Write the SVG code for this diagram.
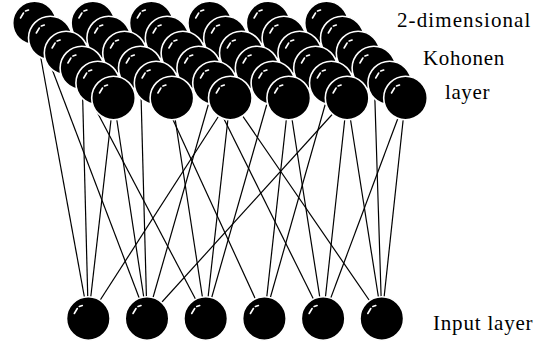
<svg xmlns="http://www.w3.org/2000/svg" width="539" height="346" viewBox="0 0 539 346">
  <rect width="539" height="346" fill="#fff"/>

  <defs>
    <!-- a shaded neuron: black ball, thin white rim, small specular glint -->
    <g id="ball">
      <circle r="21.8" fill="#000" stroke="#fff" stroke-width="1.6"/>
      <path d="M-14,-5 L-11,-10 M-9,-12 L-6,-13" stroke="#fff" stroke-width="1.6" stroke-linecap="round" fill="none"/>
    </g>
  </defs>

  <!-- connections from input neurons to map neurons (drawn first so the balls cover their ends) -->
  <g id="connectors" stroke="#000" stroke-width="1.2" fill="none">
    <line x1="34.5" y1="23" x2="88.3" y2="318.5"/>
    <line x1="34.5" y1="23" x2="147" y2="318.5"/>
    <line x1="81.9" y1="68" x2="88.3" y2="318.5"/>
    <line x1="113.5" y1="98" x2="88.3" y2="318.5"/>
    <line x1="113.5" y1="98" x2="147" y2="318.5"/>
    <line x1="230.3" y1="98" x2="88.3" y2="318.5"/>
    <line x1="66.1" y1="53" x2="205.7" y2="318.5"/>
    <line x1="140.3" y1="68" x2="147" y2="318.5"/>
    <line x1="214.5" y1="83" x2="147" y2="318.5"/>
    <line x1="347.1" y1="98" x2="147" y2="318.5"/>
    <line x1="171.9" y1="98" x2="205.7" y2="318.5"/>
    <line x1="230.3" y1="98" x2="205.7" y2="318.5"/>
    <line x1="272.9" y1="83" x2="205.7" y2="318.5"/>
    <line x1="156.1" y1="83" x2="264.4" y2="318.5"/>
    <line x1="288.7" y1="98" x2="264.4" y2="318.5"/>
    <line x1="331.3" y1="83" x2="264.4" y2="318.5"/>
    <line x1="198.7" y1="68" x2="323.1" y2="318.5"/>
    <line x1="288.7" y1="98" x2="323.1" y2="318.5"/>
    <line x1="347.1" y1="98" x2="323.1" y2="318.5"/>
    <line x1="405.5" y1="98" x2="323.1" y2="318.5"/>
    <line x1="230.3" y1="98" x2="381.8" y2="318.5"/>
    <line x1="347.1" y1="98" x2="381.8" y2="318.5"/>
    <line x1="405.5" y1="98" x2="381.8" y2="318.5"/>
    <line x1="373.9" y1="68" x2="381.8" y2="318.5"/>
  </g>

  <!-- 2-dimensional map, back row first -->
  <g id="kohonen-layer">
    <g id="k-0-0"><use href="#ball" x="34.5" y="23"/></g>
    <g id="k-0-1"><use href="#ball" x="92.9" y="23"/></g>
    <g id="k-0-2"><use href="#ball" x="151.3" y="23"/></g>
    <g id="k-0-3"><use href="#ball" x="209.7" y="23"/></g>
    <g id="k-0-4"><use href="#ball" x="268.1" y="23"/></g>
    <g id="k-0-5"><use href="#ball" x="326.5" y="23"/></g>

    <g id="k-1-0"><use href="#ball" x="50.3" y="38"/></g>
    <g id="k-1-1"><use href="#ball" x="108.7" y="38"/></g>
    <g id="k-1-2"><use href="#ball" x="167.1" y="38"/></g>
    <g id="k-1-3"><use href="#ball" x="225.5" y="38"/></g>
    <g id="k-1-4"><use href="#ball" x="283.9" y="38"/></g>
    <g id="k-1-5"><use href="#ball" x="342.3" y="38"/></g>

    <g id="k-2-0"><use href="#ball" x="66.1" y="53"/></g>
    <g id="k-2-1"><use href="#ball" x="124.5" y="53"/></g>
    <g id="k-2-2"><use href="#ball" x="182.9" y="53"/></g>
    <g id="k-2-3"><use href="#ball" x="241.3" y="53"/></g>
    <g id="k-2-4"><use href="#ball" x="299.7" y="53"/></g>
    <g id="k-2-5"><use href="#ball" x="358.1" y="53"/></g>

    <g id="k-3-0"><use href="#ball" x="81.9" y="68"/></g>
    <g id="k-3-1"><use href="#ball" x="140.3" y="68"/></g>
    <g id="k-3-2"><use href="#ball" x="198.7" y="68"/></g>
    <g id="k-3-3"><use href="#ball" x="257.1" y="68"/></g>
    <g id="k-3-4"><use href="#ball" x="315.5" y="68"/></g>
    <g id="k-3-5"><use href="#ball" x="373.9" y="68"/></g>

    <g id="k-4-0"><use href="#ball" x="97.7" y="83"/></g>
    <g id="k-4-1"><use href="#ball" x="156.1" y="83"/></g>
    <g id="k-4-2"><use href="#ball" x="214.5" y="83"/></g>
    <g id="k-4-3"><use href="#ball" x="272.9" y="83"/></g>
    <g id="k-4-4"><use href="#ball" x="331.3" y="83"/></g>
    <g id="k-4-5"><use href="#ball" x="389.7" y="83"/></g>

    <g id="k-5-0"><use href="#ball" x="113.5" y="98"/></g>
    <g id="k-5-1"><use href="#ball" x="171.9" y="98"/></g>
    <g id="k-5-2"><use href="#ball" x="230.3" y="98"/></g>
    <g id="k-5-3"><use href="#ball" x="288.7" y="98"/></g>
    <g id="k-5-4"><use href="#ball" x="347.1" y="98"/></g>
    <g id="k-5-5"><use href="#ball" x="405.5" y="98"/></g>
  </g>

  <!-- input neurons -->
  <g id="input-layer">
    <g id="in-0"><use href="#ball" x="88.3" y="318.5"/></g>
    <g id="in-1"><use href="#ball" x="147" y="318.5"/></g>
    <g id="in-2"><use href="#ball" x="205.7" y="318.5"/></g>
    <g id="in-3"><use href="#ball" x="264.4" y="318.5"/></g>
    <g id="in-4"><use href="#ball" x="323.1" y="318.5"/></g>
    <g id="in-5"><use href="#ball" x="381.8" y="318.5"/></g>
  </g>

  <!-- captions -->
  <text x="397" y="27" font-family="serif" font-size="21" letter-spacing="1.1">2-dimensional</text>
  <text x="423" y="65" font-family="serif" font-size="21" letter-spacing="0.7">Kohonen</text>
  <text x="445" y="99" font-family="serif" font-size="21" letter-spacing="0.6">layer</text>
  <text x="433" y="330" font-family="serif" font-size="21" letter-spacing="0.8">Input layer</text>
</svg>
